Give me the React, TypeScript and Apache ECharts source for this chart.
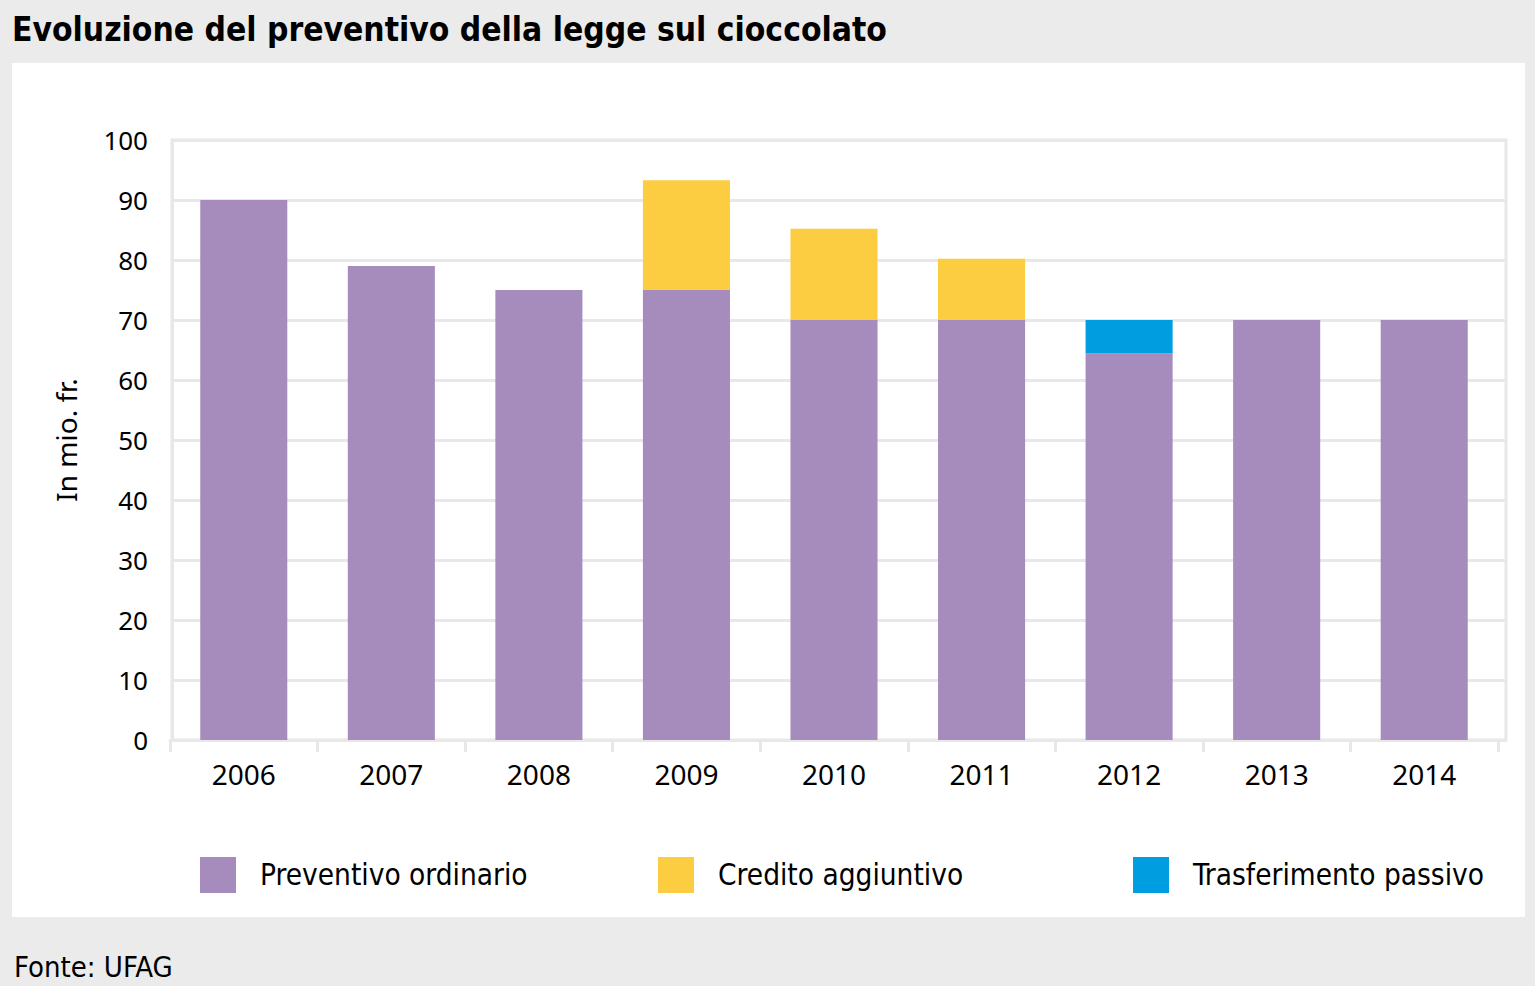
import React, { useEffect, useRef } from "react";
import * as echarts from "echarts";

const categories = ["2006", "2007", "2008", "2009", "2010", "2011", "2012", "2013", "2014"];
const preventivoOrdinario = [90, 79, 75, 75, 70, 70, 64.4, 70, 70];
const creditoAggiuntivo = [null, null, null, 18.3, 15.2, 10.2, null, null, null];
const trasferimentoPassivo = [null, null, null, null, null, null, 5.6, null, null];
const yTicks = { min: 0, max: 100, interval: 10 };

const seriesNames = ["Preventivo ordinario", "Credito aggiuntivo", "Trasferimento passivo"];
const seriesColors = ["#a68bbd", "#fdcd41", "#009ee0"];

const condensed = "'Liberation Sans Narrow', 'DejaVu Sans Condensed', sans-serif";
const normal = "'Noto Sans', 'Open Sans', sans-serif";
const gridGrey = "#e8e8e8";

export default function App() {
  const ref = useRef<HTMLDivElement>(null);
  useEffect(() => {
    document.body.style.margin = "0";
    if (!ref.current) return;
    const chart = echarts.init(ref.current, undefined, { renderer: "svg" });
    const legendLefts = [200, 658, 1133];
    chart.setOption({
      animation: false,
      backgroundColor: "#ebebeb",
      graphic: [
        { type: "rect", z: -10, shape: { x: 12, y: 63, width: 1513, height: 854 }, style: { fill: "#ffffff" } },
        {
          type: "text", left: 12, top: 13,
          style: { text: "Evoluzione del preventivo della legge sul cioccolato", fontFamily: condensed, fontWeight: "bold", fontSize: 33.3, fill: "#000" },
        },
        {
          type: "text", left: 14, top: 952,
          style: { text: "Fonte: UFAG", fontFamily: condensed, fontSize: 29, fill: "#000" },
        },
      ],
      grid: [
        { left: 170, right: 37, top: 140, bottom: 246 },
        { left: 172, right: 29, top: 140, bottom: 246, show: true, borderColor: gridGrey, borderWidth: 3 },
      ],
      legend: seriesNames.map((n, i) => ({
        data: [n],
        left: legendLefts[i],
        top: 857,
        padding: 0,
        itemWidth: 36,
        itemHeight: 36,
        icon: "rect",
        selectedMode: false,
        textStyle: { fontFamily: condensed, fontSize: 29.5, color: "#000", padding: [4, 0, 0, 19] },
      })),
      xAxis: [
        {
          type: "category",
          gridIndex: 0,
          data: categories,
          axisLine: { show: true, lineStyle: { color: gridGrey, width: 3 } },
          axisTick: { show: true, length: 12, lineStyle: { color: gridGrey, width: 3 } },
          axisLabel: { color: "#000", fontFamily: normal, fontSize: 28, margin: 20 },
        },
        { type: "value", gridIndex: 1, min: 0, max: 1, show: false },
      ],
      yAxis: [
        {
          type: "value",
          gridIndex: 0,
          min: yTicks.min,
          max: yTicks.max,
          interval: yTicks.interval,
          axisLine: { show: false },
          axisTick: { show: false },
          axisLabel: { show: false },
          splitLine: { show: false },
        },
        {
          type: "value",
          gridIndex: 1,
          min: yTicks.min,
          max: yTicks.max,
          interval: yTicks.interval,
          name: "In mio. fr.",
          nameLocation: "middle",
          nameGap: 92,
          nameTextStyle: { color: "#000", fontFamily: normal, fontSize: 28 },
          axisLine: { show: true, lineStyle: { color: gridGrey, width: 3 } },
          axisTick: { show: false },
          axisLabel: { color: "#000", fontFamily: normal, fontSize: 26, margin: 24 },
          splitLine: { show: true, lineStyle: { color: gridGrey, width: 3 } },
        },
      ],
      series: [preventivoOrdinario, creditoAggiuntivo, trasferimentoPassivo].map((d, i) => ({
        name: seriesNames[i],
        type: "bar",
        xAxisIndex: 0,
        yAxisIndex: 0,
        stack: "total",
        data: d,
        barCategoryGap: "41%",
        itemStyle: { color: seriesColors[i] },
      })),
    });
    return () => chart.dispose();
  }, []);
  return <div ref={ref} style={{ width: 1535, height: 986 }} />;
}
